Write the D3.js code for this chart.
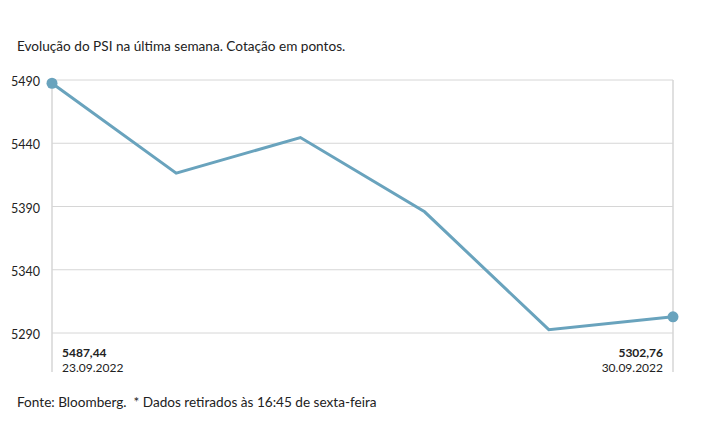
<!DOCTYPE html>
<html>
<head>
<meta charset="utf-8">
<script src="https://cdnjs.cloudflare.com/ajax/libs/d3/7.8.5/d3.min.js"></script>
<style>
  body { margin: 0; background: #fff; }
  text { font-family: "Lato", "Open Sans", sans-serif; fill: #222; }
</style>
</head>
<body>
<div id="chart"></div>
<script>
// data
var dates = ["23.09.2022", "26.09.2022", "27.09.2022", "28.09.2022", "29.09.2022", "30.09.2022"];
var values = [5487.44, 5416.3, 5444.5, 5385.8, 5292.6, 5302.76];
var labels = ["5487,44", "", "", "", "", "5302,76"];
var yTicks = [5290, 5340, 5390, 5440, 5490];

var svgWidth = 715;
var svgHeight = 445;

var margin = { top: 80, right: 42, bottom: 112, left: 52 };
var chartWidth = svgWidth - margin.left - margin.right;
var chartHeight = svgHeight - margin.top - margin.bottom;

var svg = d3.select("#chart")
  .append("svg")
  .attr("width", svgWidth)
  .attr("height", svgHeight);

svg.append("text")
  .attr("x", 17)
  .attr("y", 51)
  .attr("font-size", 13.6)
  .text("Evolução do PSI na última semana. Cotação em pontos.");

var chartGroup = svg.append("g")
  .attr("transform", `translate(${margin.left}, ${margin.top})`);

var xScale = d3.scalePoint()
  .domain(d3.range(dates.length))
  .range([0, chartWidth]);

var yScale = d3.scaleLinear()
  .domain([5290, 5490])
  .range([chartHeight, 0]);

// gridlines
chartGroup.selectAll(".grid")
  .data(yTicks)
  .enter()
  .append("line")
  .attr("x1", 0)
  .attr("x2", chartWidth)
  .attr("y1", d => yScale(d))
  .attr("y2", d => yScale(d))
  .attr("stroke", "#d6d6d6")
  .attr("stroke-width", 1);

// side lines
[0, chartWidth].forEach(function(x) {
  chartGroup.append("line")
    .attr("x1", x).attr("x2", x)
    .attr("y1", 0).attr("y2", chartHeight + 39)
    .attr("stroke", "#d6d6d6")
    .attr("stroke-width", 1.5);
});

// y axis labels
var yAxis = d3.axisLeft(yScale).tickValues(yTicks).tickSize(0).tickPadding(12).tickFormat(d3.format("d"));
var yG = chartGroup.append("g").call(yAxis);
yG.select(".domain").remove();
yG.selectAll("text")
  .attr("font-size", 12.5)
  .attr("fill", "#333")
  .attr("dy", "0.45em")
  .style("font-family", "Lato, sans-serif");

// line
var line = d3.line()
  .x((d, i) => xScale(i))
  .y(d => yScale(d));

chartGroup.append("path")
  .datum(values)
  .attr("d", line)
  .attr("fill", "none")
  .attr("stroke", "#69a3bd")
  .attr("stroke-width", 3);

// end dots
var ends = [0, values.length - 1];
chartGroup.selectAll(".dot")
  .data(ends)
  .enter()
  .append("circle")
  .attr("cx", i => xScale(i))
  .attr("cy", i => yScale(values[i]))
  .attr("r", 5.5)
  .attr("fill", "#69a3bd");

// end labels
ends.forEach(function(i) {
  var first = i === 0;
  var x = xScale(i) + (first ? 10 : -10);
  chartGroup.append("text")
    .attr("x", x)
    .attr("y", chartHeight + 24)
    .attr("text-anchor", first ? "start" : "end")
    .attr("font-size", 12)
    .attr("font-weight", "bold")
    .text(labels[i]);
  chartGroup.append("text")
    .attr("x", x)
    .attr("y", chartHeight + 39)
    .attr("text-anchor", first ? "start" : "end")
    .attr("font-size", 12)
    .attr("fill", "#333")
    .text(dates[i]);
});

svg.append("text")
  .attr("x", 17)
  .attr("y", 407)
  .attr("font-size", 13.6)
  .style("white-space", "pre")
  .text("Fonte: Bloomberg.  * Dados retirados às 16:45 de sexta-feira");
</script>
</body>
</html>
